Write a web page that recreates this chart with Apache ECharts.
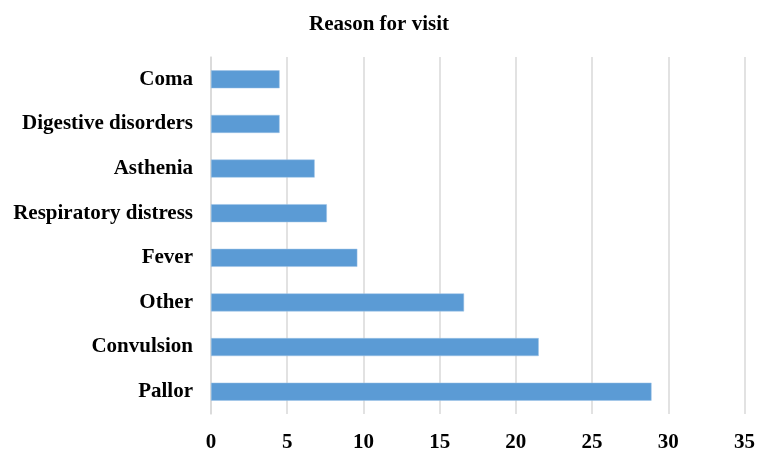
<!DOCTYPE html>
<html><head><meta charset="utf-8">
<script src="https://cdn.jsdelivr.net/npm/echarts@6/dist/echarts.min.js"></script>
<style>html,body{margin:0;padding:0;background:#fff}#c{width:758px;height:454px}</style>
</head><body><div id="c"></div>
<script>
const categories = ["Pallor","Convulsion","Other","Fever","Respiratory distress","Asthenia","Digestive disorders","Coma"];
const values = [28.9, 21.5, 16.6, 9.6, 7.6, 6.8, 4.5, 4.5];
const chart = echarts.init(document.getElementById('c'));
const font = '"Liberation Serif","Times New Roman",serif';
chart.setOption({
  animation:false,
  title:{text:'Reason for visit',left:'center',top:9,textStyle:{fontFamily:font,fontWeight:'bold',fontSize:21,color:'#000'}},
  grid:{left:211,right:12,top:57,bottom:40,containLabel:false},
  xAxis:{type:'value',min:0,max:35,interval:5,
    axisLine:{show:false},axisTick:{show:false},
    splitLine:{lineStyle:{color:'#d9d9d9',width:1.5}},
    axisLabel:{fontFamily:font,fontWeight:'bold',fontSize:21,color:'#000',margin:18}},
  yAxis:{type:'category',data:categories,
    axisLine:{show:true,lineStyle:{color:'#d9d9d9',width:1.5}},axisTick:{show:false},
    axisLabel:{fontFamily:font,fontWeight:'bold',fontSize:21,color:'#000',margin:18}},
  series:[{type:'bar',data:values,barWidth:18,
    itemStyle:{color:'#5b9bd5',borderColor:'#9dc3e6',borderWidth:0.5}}]
});
</script></body></html>
